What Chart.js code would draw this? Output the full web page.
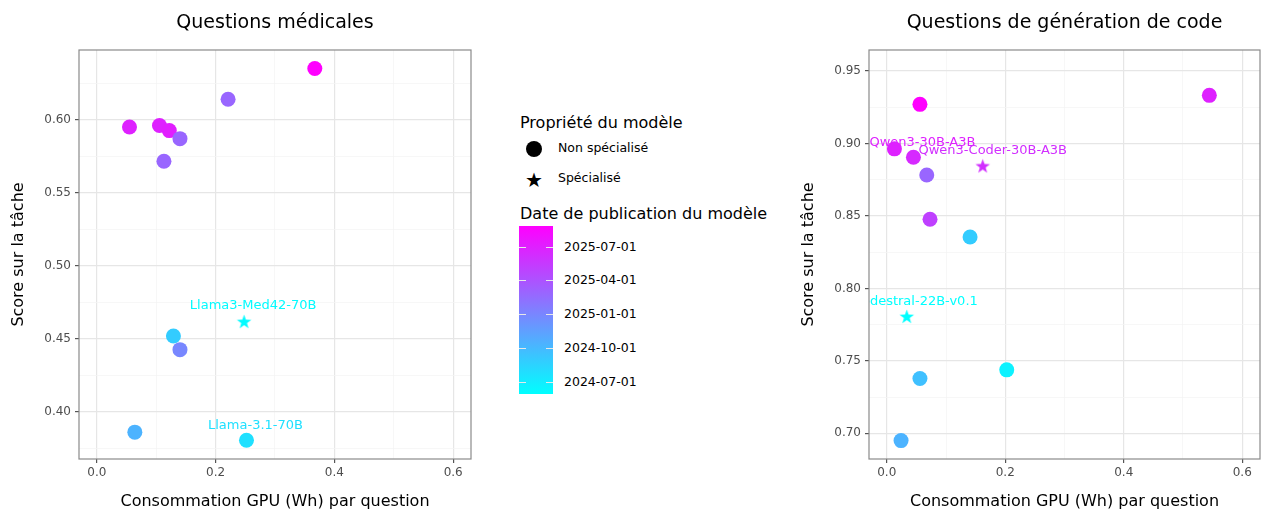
<!DOCTYPE html>
<html>
<head>
<meta charset="utf-8">
<script src="https://cdn.jsdelivr.net/npm/chart.js@4.4.1/dist/chart.umd.min.js"></script>
<style>
  body { margin: 0; width: 1261px; height: 511px; background: #fff; position: relative; overflow: hidden;
         font-family: "DejaVu Sans", sans-serif; color: #000; }
  canvas { position: absolute; top: 0; }
  #med { left: 0; }
  #code { left: 790px; }
  .lg { position: absolute; white-space: nowrap; }
  .lg-title { font-size: 16px; line-height: 20px; }
  .lg-text { font-size: 12.5px; line-height: 16px; }
  #cbar { position: absolute; left: 519px; top: 226px; width: 34px; height: 168px;
          background: linear-gradient(to top, rgb(0,255,255), rgb(255,0,255)); }
  .cb-tick { position: absolute; height: 1px; width: 7px; background: #e8e8e8; }
</style>
</head>
<body>
<canvas id="med" width="480" height="511"></canvas>
<canvas id="code" width="471" height="511"></canvas>

<div class="lg lg-title" style="left:520px; top:113px;">Propriété du modèle</div>
<div class="lg" style="left:526px; top:141px; width:16px; height:16px; border-radius:50%; background:#000;"></div>
<div class="lg lg-text" style="left:558px; top:140px;">Non spécialisé</div>
<div class="lg" style="left:523px; top:169px; width:22px; font-size:20px; line-height:22px; text-align:center;">★</div>
<div class="lg lg-text" style="left:558px; top:170px;">Spécialisé</div>
<div class="lg lg-title" style="left:520px; top:204px;">Date de publication du modèle</div>
<div id="cbar"></div>
<div id="cbticks"></div>

<script>
// Questions médicales
const medGpu   = [0.367, 0.221, 0.055, 0.1055, 0.122, 0.140, 0.113, 0.248, 0.129, 0.140, 0.064, 0.252];
const medScore = [0.635, 0.614, 0.595, 0.596, 0.5925, 0.587, 0.5715, 0.4617, 0.4518, 0.4425, 0.386, 0.3804];
const medDate  = ['2025-08-26', '2025-02-25', '2025-06-28', '2025-06-28', '2025-07-03', '2025-02-25',
                  '2025-02-25', '2024-06-05', '2024-08-28', '2024-12-28', '2024-10-12', '2024-07-23'];
const medSpec  = [0, 0, 0, 0, 0, 0, 0, 1, 0, 0, 0, 0];
const medLabel = ['', '', '', '', '', '', '', 'Llama3-Med42-70B', '', '', '', 'Llama-3.1-70B'];

// Questions de génération de code
const codeGpu   = [0.056, 0.5445, 0.0129, 0.045, 0.162, 0.0675, 0.073, 0.1406, 0.0338, 0.2025, 0.056, 0.0241];
const codeScore = [0.927, 0.9332, 0.8963, 0.8905, 0.8845, 0.8783, 0.8477, 0.8355, 0.7806, 0.7438, 0.7378, 0.695];
const codeDate  = ['2025-08-26', '2025-06-28', '2025-06-28', '2025-06-14', '2025-06-05', '2025-02-25',
                   '2025-05-04', '2024-08-28', '2024-05-29', '2024-06-21', '2024-09-19', '2024-10-12'];
const codeSpec  = [0, 0, 0, 0, 1, 0, 0, 0, 1, 0, 0, 0];
const codeLabel = ['', '', 'Qwen3-30B-A3B', '', 'Qwen3-Coder-30B-A3B', '', '', '', 'Codestral-22B-v0.1', '', '', ''];

// ticks
const xMajor = [0, 0.2, 0.4, 0.6];
const xMinor = [0.1, 0.3, 0.5];
const medYMajor = [0.40, 0.45, 0.50, 0.55, 0.60];
const medYMinor = [0.375, 0.425, 0.475, 0.525, 0.575, 0.625];
const codeYMajor = [0.70, 0.75, 0.80, 0.85, 0.90, 0.95];
const codeYMinor = [0.725, 0.775, 0.825, 0.875, 0.925];
const dateTicks = ['2024-07-01', '2024-10-01', '2025-01-01', '2025-04-01', '2025-07-01'];

// colour scale shared by both panels
const allDates = medDate.concat(codeDate).map(d => Date.parse(d));
const dMin = Math.min(...allDates), dMax = Math.max(...allDates);
function dateColor(d) {
    const f = (Date.parse(d) - dMin) / (dMax - dMin);
    return `rgb(${Math.round(255 * f)},${Math.round(255 * (1 - f))},255)`;
}

const starCache = {};
function starImage(color) {
    if (starCache[color]) return starCache[color];
    const r = 7.6, c = document.createElement('canvas');
    c.width = c.height = 17;
    const g = c.getContext('2d');
    g.fillStyle = color;
    g.beginPath();
    for (let i = 0; i < 10; i++) {
        const rad = i % 2 ? r * 0.4 : r;
        const a = -Math.PI / 2 + i * Math.PI / 5;
        g.lineTo(8.5 + rad * Math.cos(a), 9 + rad * Math.sin(a));
    }
    g.closePath();
    g.fill();
    starCache[color] = c;
    return c;
}

const near = (arr, v) => arr.some(m => Math.abs(m - v) < 1e-6);

const frame = {
    id: 'frame',
    afterDraw(chart) {
        const a = chart.chartArea, ctx = chart.ctx;
        ctx.save();
        ctx.strokeStyle = '#8a8a8a';
        ctx.lineWidth = 1.2;
        ctx.strokeRect(a.left, a.top, a.right - a.left, a.bottom - a.top);
        ctx.font = '19px "DejaVu Sans"';
        ctx.fillStyle = '#000';
        ctx.textAlign = 'center';
        ctx.textBaseline = 'middle';
        ctx.fillText(chart.options.plugins.frame.title, (a.left + a.right) / 2, 23);
        ctx.restore();
    }
};

const pointLabels = {
    id: 'pointLabels',
    afterDatasetsDraw(chart) {
        const o = chart.options.plugins.pointLabels;
        const a = chart.chartArea, ctx = chart.ctx;
        const meta = chart.getDatasetMeta(0);
        ctx.save();
        ctx.beginPath();
        ctx.rect(a.left, a.top, a.right - a.left, a.bottom - a.top);
        ctx.clip();
        ctx.font = '13px "DejaVu Sans"';
        ctx.textBaseline = 'middle';
        o.labels.forEach((txt, i) => {
            if (!txt) return;
            const p = meta.data[i], off = o.offsets[txt];
            ctx.fillStyle = dateColor(o.dates[i]);
            ctx.textAlign = off[2];
            ctx.fillText(txt, p.x + off[0], p.y + off[1]);
        });
        ctx.restore();
    }
};

// label placement relative to the point (dx, dy, align)
const labelOffsets = {
    'Llama3-Med42-70B': [9, -16, 'center'],
    'Llama-3.1-70B': [9, -15, 'center'],
    'Qwen3-30B-A3B': [28, -6, 'center'],
    'Qwen3-Coder-30B-A3B': [10, -15, 'center'],
    'Codestral-22B-v0.1': [71, -15, 'right']
};

function makePanel(id, title, gpu, score, dates, spec, labels, yMin, yMax, yMajor, yMinor, padRight) {
    const gridOpts = (major) => ({
        color: c => near(major, c.tick.value) ? '#e6e6e6' : '#f3f3f3',
        lineWidth: c => near(major, c.tick.value) ? 1.2 : 0.7,
        tickColor: c => near(major, c.tick.value) ? '#555' : 'rgba(0,0,0,0)',
        tickLength: 4
    });
    return new Chart(document.getElementById(id), {
        type: 'scatter',
        data: {
            datasets: [{
                data: gpu.map((x, i) => ({ x, y: score[i] })),
                backgroundColor: c => dateColor(dates[c.dataIndex]),
                borderWidth: 0,
                pointRadius: 7.5,
                pointStyle: c => spec[c.dataIndex] ? starImage(dateColor(dates[c.dataIndex])) : 'circle'
            }]
        },
        options: {
            responsive: false,
            animation: false,
            events: [],
            layout: { autoPadding: false, padding: { top: 50, right: padRight, left: 0, bottom: 0 } },
            plugins: {
                legend: { display: false },
                tooltip: { enabled: false },
                frame: { title },
                pointLabels: { labels, dates, offsets: labelOffsets }
            },
            scales: {
                x: {
                    type: 'linear', min: -0.03, max: 0.63,
                    afterBuildTicks: s => { s.ticks = xMajor.concat(xMinor).map(v => ({ value: v })); },
                    afterFit: s => { s.height = 52; s.paddingLeft = 0; s.paddingRight = 0; },
                    grid: gridOpts(xMajor),
                    border: { display: false },
                    ticks: {
                        autoSkip: false, maxRotation: 0, padding: 3, color: '#4d4d4d',
                        font: { family: 'DejaVu Sans', size: 12 },
                        callback: v => near(xMajor, v) ? v.toFixed(1) : ''
                    },
                    title: {
                        display: true, text: 'Consommation GPU (Wh) par question', color: '#000',
                        font: { family: 'DejaVu Sans', size: 16 }, padding: { top: 0, bottom: 0 }
                    }
                },
                y: {
                    type: 'linear', min: yMin, max: yMax,
                    afterBuildTicks: s => { s.ticks = yMajor.concat(yMinor).map(v => ({ value: v })); },
                    afterFit: s => { s.width = 79; s.paddingTop = 0; s.paddingBottom = 0; },
                    grid: gridOpts(yMajor),
                    border: { display: false },
                    ticks: {
                        autoSkip: false, padding: 4, color: '#4d4d4d',
                        font: { family: 'DejaVu Sans', size: 12 },
                        callback: v => near(yMajor, v) ? v.toFixed(2) : ''
                    },
                    title: {
                        display: true, text: 'Score sur la tâche', color: '#000',
                        font: { family: 'DejaVu Sans', size: 16 }, padding: { top: 9, bottom: 0 }
                    }
                }
            }
        },
        plugins: [frame, pointLabels]
    });
}

makePanel('med', 'Questions médicales', medGpu, medScore, medDate, medSpec, medLabel,
          0.3676, 0.6477, medYMajor, medYMinor, 9);
makePanel('code', 'Questions de génération de code', codeGpu, codeScore, codeDate, codeSpec, codeLabel,
          0.6823, 0.9645, codeYMajor, codeYMinor, 1);

// colour bar ticks
const cbTop = 226, cbH = 168, cbLeft = 519, cbW = 34;
const holder = document.getElementById('cbticks');
dateTicks.forEach(d => {
    const y = cbTop + cbH * (1 - (Date.parse(d) - dMin) / (dMax - dMin));
    [cbLeft, cbLeft + cbW - 7].forEach(x => {
        const t = document.createElement('div');
        t.className = 'cb-tick';
        t.style.left = x + 'px';
        t.style.top = Math.round(y) + 'px';
        holder.appendChild(t);
    });
    const lab = document.createElement('div');
    lab.className = 'lg lg-text';
    lab.style.left = '564px';
    lab.style.top = (y - 8) + 'px';
    lab.textContent = d;
    holder.appendChild(lab);
});
</script>
</body>
</html>
